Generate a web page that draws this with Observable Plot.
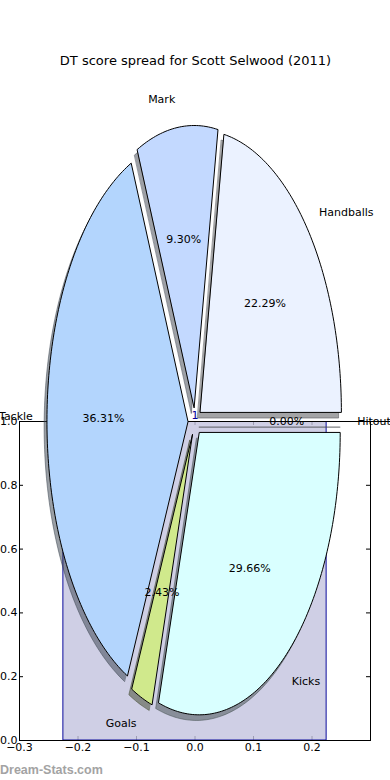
<!DOCTYPE html>
<html>
<head>
<meta charset="utf-8">
<script src="https://cdn.jsdelivr.net/npm/d3@7"></script>
<script src="https://cdn.jsdelivr.net/npm/@observablehq/plot@0.6"></script>
<style>
  html, body { margin: 0; padding: 0; background: #fff; }
  #wrap { width: 390px; height: 780px; overflow: hidden; font-family: "DejaVu Sans", sans-serif; }
  #title { box-sizing: border-box; height: 80px; padding-top: 53px; line-height: 16px; font-size: 13px; text-align: center; color: #000; padding-left: 1px; }
  #chart { height: 680px; }
  #chart svg { overflow: visible; display: block; }
  #footer { height: 20px; line-height: 20px; font-family: "Liberation Sans", Arial, sans-serif; font-weight: bold; font-size: 12.5px; color: #a3a3a3; padding-left: 0px; }
</style>
</head>
<body>
<div id="wrap">
  <div id="title">DT score spread for Scott Selwood (2011)</div>
  <div id="chart"></div>
  <div id="footer">Dream-Stats.com</div>
</div>
<script>
// ---- data ----
const categories = ["Hitout", "Handballs", "Mark", "Tackle", "Goals", "Kicks"];
const shares = [0.00, 22.29, 9.30, 36.31, 2.43, 29.66];
const sliceColors = ["#eef5ff", "#ebf2ff", "#c3d9ff", "#b3d5fd", "#d0e98c", "#d9ffff"];

const barPositions = [0];
const barValues = [1];
const barLabels = ["1"];

const xTicks = [-0.3, -0.2, -0.1, 0.0, 0.1, 0.2];
const yTicks = [0.0, 0.2, 0.4, 0.6, 0.8, 1.0];

// ---- layout constants ----
const W = 390, H = 680, ML = 19, MR = 20, MT = 341, MB = 20;
const XD = [-0.3, 0.3], YD = [0, 1];
const pxPerX = (W - ML - MR) / (XD[1] - XD[0]);
const pxPerY = (H - MT - MB) / (YD[1] - YD[0]);
const TICK = 4;
const BAR_W = 0.45;

// pie geometry (pie unit radius expressed in the axes' data units)
const PIE_X = 0, PIE_Y = 1;
const RX = 141 / pxPerX, RY = 282 / pxPerY;
const EXPLODE = 0.05, LABEL_DIST = 1.1, PCT_DIST = 0.6, SHADOW = -0.02;

const total = d3.sum(shares);
let acc = 0;
const wedges = categories.map((name, i) => {
  const t1 = acc / total * 2 * Math.PI;
  acc += shares[i];
  const t2 = acc / total * 2 * Math.PI;
  const tm = (t1 + t2) / 2;
  return { name, share: shares[i], color: sliceColors[i], t1, t2, tm,
           ex: EXPLODE * Math.cos(tm), ey: EXPLODE * Math.sin(tm) };
});

const pt = (u, v) => ({ x: PIE_X + u * RX, y: PIE_Y + v * RY });

function outline(w, off) {
  const n = Math.max(2, Math.ceil((w.t2 - w.t1) / (Math.PI / 180)));
  const pts = [pt(w.ex + off, w.ey + off)];
  for (let k = 0; k <= n; k++) {
    const th = w.t1 + (w.t2 - w.t1) * k / n;
    pts.push(pt(w.ex + Math.cos(th) + off, w.ey + Math.sin(th) + off));
  }
  return pts.map(p => ({ ...p, name: w.name }));
}

const wedgePts = wedges.flatMap(w => outline(w, 0));

const shadowMarks = wedges.map(w => {
  const c = d3.rgb(w.color);
  const sc = d3.rgb(c.r * 0.3, c.g * 0.3, c.b * 0.3).formatHex();
  return Plot.line(outline(w, SHADOW), {
    x: "x", y: "y", fill: sc, fillOpacity: 0.5, stroke: sc, strokeOpacity: 0.5,
    strokeWidth: 1, curve: "linear-closed"
  });
});

const labels = wedges.map(w => ({
  name: w.name,
  right: Math.cos(w.tm) * LABEL_DIST > 0,
  ...pt(w.ex + LABEL_DIST * Math.cos(w.tm), w.ey + LABEL_DIST * Math.sin(w.tm))
}));
const pcts = wedges.map(w => ({
  text: (w.share / total * 100).toFixed(2) + "%",
  ...pt(w.ex + PCT_DIST * Math.cos(w.tm), w.ey + PCT_DIST * Math.sin(w.tm))
}));

const bars = barPositions.map((p, i) => ({ p, v: barValues[i], label: barLabels[i] }));
const fmt = d3.format(".1f");

const chart = Plot.plot({
  width: W, height: H,
  marginLeft: ML, marginRight: MR, marginTop: MT, marginBottom: MB,
  x: { domain: XD },
  y: { domain: YD },
  color: { type: "ordinal", domain: categories, range: sliceColors },
  style: { fontFamily: '"DejaVu Sans", sans-serif', fontSize: "11px", color: "black", background: "transparent", overflow: "visible" },
  marks: [
    // inward ticks on all four sides
    Plot.ruleX(xTicks, { x: d => d, y1: YD[0], y2: YD[0] + TICK / pxPerY, stroke: "black" }),
    Plot.ruleX(xTicks, { x: d => d, y1: YD[1] - TICK / pxPerY, y2: YD[1], stroke: "black" }),
    Plot.ruleY(yTicks, { y: d => d, x1: XD[0], x2: XD[0] + TICK / pxPerX, stroke: "black" }),
    Plot.ruleY(yTicks, { y: d => d, x1: XD[1] - TICK / pxPerX, x2: XD[1], stroke: "black" }),
    // bar
    Plot.rect(bars, {
      x1: d => d.p - BAR_W / 2, x2: d => d.p + BAR_W / 2, y1: YD[0], y2: "v",
      fill: "rgb(195,195,223)", fillOpacity: 0.8, stroke: "#0c0c9c", strokeWidth: 1, clip: "frame"
    }),
    Plot.text(bars, { x: "p", y: "v", text: "label", lineAnchor: "bottom", dy: -3, fill: "#000099", fontSize: 11 }),
    Plot.frame({ stroke: "black" }),
    Plot.ruleY([YD[1]], { x1: XD[1], x2: XD[1] + MR / pxPerX, stroke: "black" }),
    Plot.axisX(xTicks, { anchor: "bottom", tickSize: 0, tickPadding: 3, tickFormat: fmt, label: null, fontSize: 11, fill: "black" }),
    Plot.axisY(yTicks, { anchor: "left", tickSize: 0, tickPadding: 2, tickFormat: fmt, label: null, fontSize: 11, fill: "black" }),
    // pie
    ...shadowMarks,
    Plot.line(wedgePts, { x: "x", y: "y", z: "name", fill: "name", stroke: "black", strokeWidth: 1, curve: "linear-closed" }),
    Plot.text(labels.filter(d => d.right), { x: "x", y: "y", text: "name", textAnchor: "start", fontSize: 11, fill: "black" }),
    Plot.text(labels.filter(d => !d.right), { x: "x", y: "y", text: "name", textAnchor: "end", fontSize: 11, fill: "black" }),
    Plot.text(pcts, { x: "x", y: "y", text: "text", fontSize: 11, fill: "black" })
  ]
});
document.getElementById("chart").appendChild(chart);
</script>
</body>
</html>
